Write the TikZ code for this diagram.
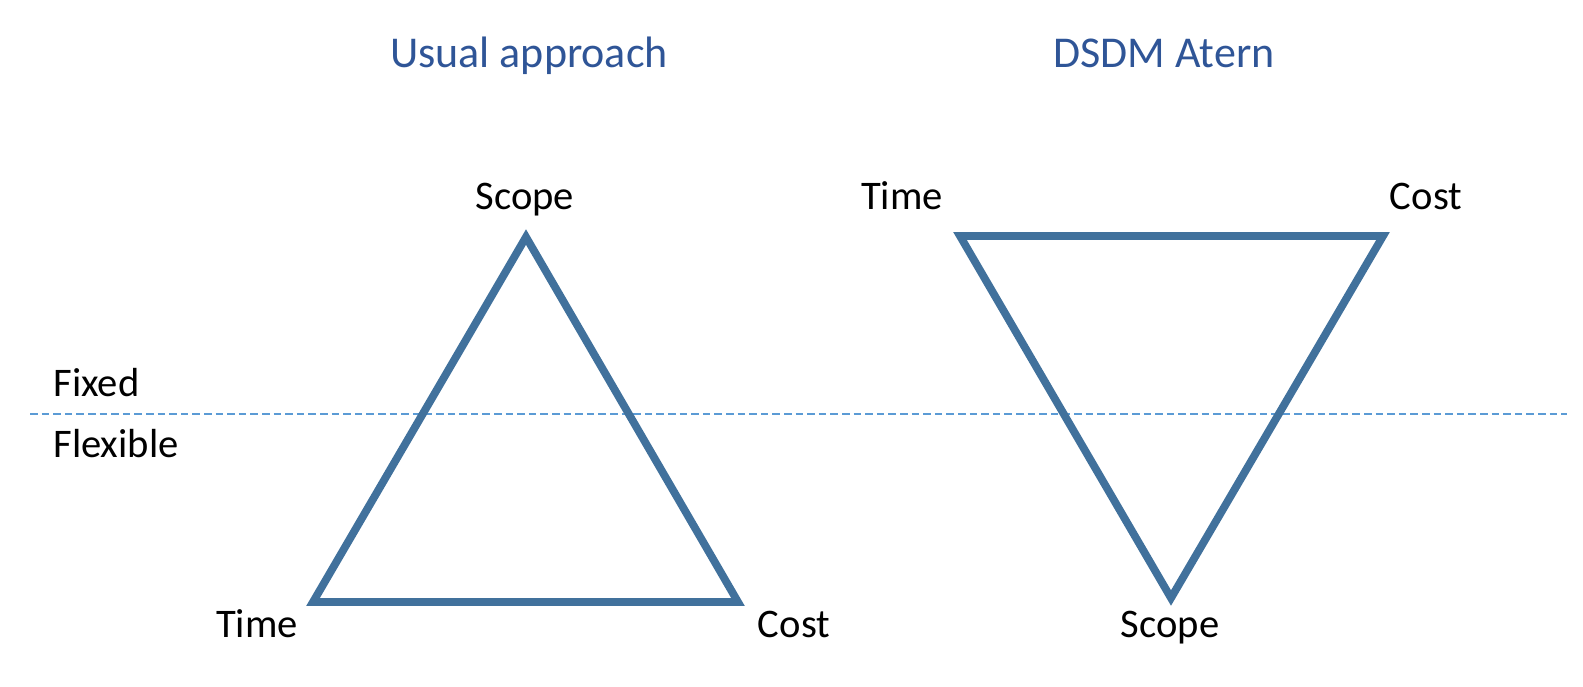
\documentclass[tikz,border=0pt]{standalone}
\usepackage{fontspec}
\setmainfont{Carlito}
\definecolor{tri}{HTML}{41719C}
\definecolor{dash}{HTML}{5B9BD5}
\definecolor{ttl}{HTML}{2F5597}
\begin{document}
\begin{tikzpicture}[x=0.5pt,y=-0.5pt,
  triline/.style={draw=tri,line width=3.9pt,line join=miter},
  lbl/.style={inner sep=0pt,anchor=base,font=\fontsize{20.3pt}{24pt}\selectfont},
  title/.style={inner sep=0pt,anchor=base,text=ttl,font=\fontsize{22pt}{26pt}\selectfont},
  divider/.style={draw=dash,line width=0.8pt,dash pattern=on 3.8pt off 2pt}]
\useasboundingbox (0,0) rectangle (1583,686);
% titles
\node[title] (t1) at (529,67) {Usual approach};
\node[title] (t2) at (1164,67) {DSDM Atern};
% divider
\coordinate (dl) at (30,414);
\coordinate (dr) at (1567,414);
\draw[divider] (dl) -- (dr);
\node[lbl,anchor=base west] (fixed) at (53,396) {Fixed};
\node[lbl,anchor=base west] (flex) at (53,457) {Flexible};
% usual triangle
\coordinate (uS) at (526,237);
\coordinate (uT) at (313,602);
\coordinate (uC) at (738,602);
\draw[triline] (uS) -- (uT) -- (uC) -- cycle;
\node[lbl] (lS1) at (525,209) {Scope};
\node[lbl] (lT1) at (257,637) {Time};
\node[lbl] (lC1) at (794,637) {Cost};
% DSDM triangle
\coordinate (dT) at (960,236);
\coordinate (dC) at (1383,236);
\coordinate (dS) at (1171,598);
\draw[triline] (dT) -- (dC) -- (dS) -- cycle;
\node[lbl] (lT2) at (902,209) {Time};
\node[lbl] (lC2) at (1426,209) {Cost};
\node[lbl] (lS2) at (1170,637) {Scope};
\end{tikzpicture}
\end{document}
